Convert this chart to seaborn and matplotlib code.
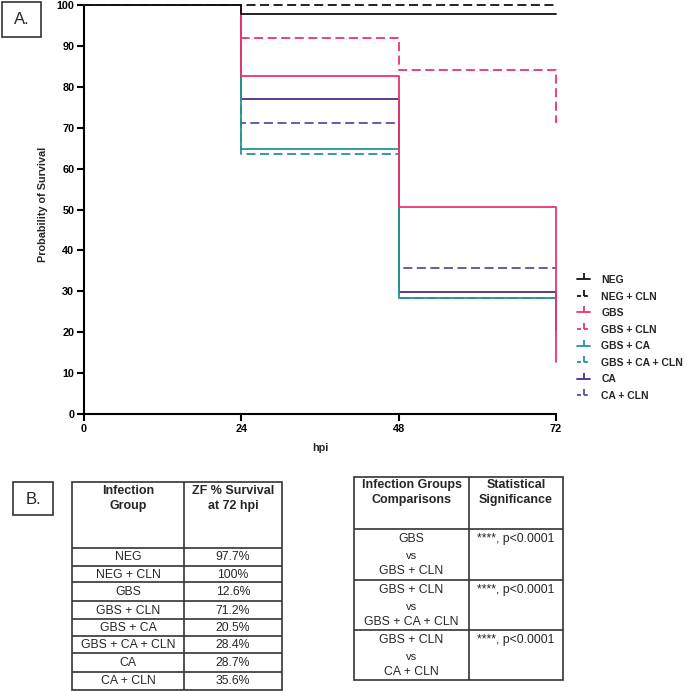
import matplotlib
matplotlib.use("Agg")
import matplotlib.pyplot as plt
import seaborn as sns
import pandas as pd
from matplotlib.lines import Line2D
from matplotlib.path import Path
from matplotlib.patches import Rectangle

# ---------------- data ----------------
times = [0, 24, 48, 72]
surv_neg = [100, 97.7, 97.7, 97.7]
surv_neg_cln = [100, 100, 100, 100]
surv_gbs = [100, 82.7, 50.5, 12.6]
surv_gbs_cln = [100, 92.0, 84.0, 71.2]
surv_gbs_ca = [100, 64.7, 28.4, 20.5]
surv_gbs_ca_cln = [100, 63.6, 28.4, 28.4]
surv_ca = [100, 77.0, 29.9, 28.7]
surv_ca_cln = [100, 71.2, 35.6, 35.6]

group_names = ["NEG", "NEG + CLN", "GBS", "GBS + CLN", "GBS + CA",
               "GBS + CA + CLN", "CA", "CA + CLN"]
group_values = [surv_neg, surv_neg_cln, surv_gbs, surv_gbs_cln, surv_gbs_ca,
                surv_gbs_ca_cln, surv_ca, surv_ca_cln]
colors = ["#111111", "#111111", "#F0306E", "#F0306E", "#23968C", "#23968C",
          "#4A2F85", "#5E4E9E"]
dashed = [False, True, False, True, False, True, False, True]

xticks = [0, 24, 48, 72]
yticks = list(range(0, 101, 10))

table1_header = ["Infection\nGroup", "ZF % Survival\nat 72 hpi"]
table1_groups = group_names
table1_survival = ["97.7%", "100%", "12.6%", "71.2%", "20.5%", "28.4%",
                   "28.7%", "35.6%"]

table2_header = ["Infection Groups\nComparisons", "Statistical\nSignificance"]
table2_a = ["GBS", "GBS + CLN", "GBS + CLN"]
table2_b = ["GBS + CLN", "GBS + CA + CLN", "CA + CLN"]
table2_sig = ["****, p<0.0001", "****, p<0.0001", "****, p<0.0001"]

# ---------------- style ----------------
sns.set_style("ticks")
plt.rcParams["font.family"] = ["Liberation Sans", "DejaVu Sans"]

W, H = 687, 691
fig = plt.figure(figsize=(W / 100, H / 100), dpi=100)

# survival plot axes in pixel geometry
L, R, T, B = 84, 556, 5, 414
ax = fig.add_axes([L / W, 1 - B / H, (R - L) / W, (B - T) / H])

df = pd.DataFrame({
    "hpi": [t for _ in group_names for t in times],
    "surv": [v for vals in group_values for v in vals],
    "group": [g for g in group_names for _ in times],
})

draw_order = [7, 6, 5, 4, 3, 2, 1, 0]
for i in draw_order:
    sub = df[df["group"] == group_names[i]]
    ls = (0, (5, 2.5)) if dashed[i] else "-"
    sns.lineplot(data=sub, x="hpi", y="surv", ax=ax, color=colors[i],
                 linestyle=ls, drawstyle="steps-post", linewidth=1.3,
                 errorbar=None, legend=False, clip_on=False,
                 zorder=3 + (8 - i) * 0.01)

ax.set_xlim(0, 72)
ax.set_ylim(0, 100)
ax.set_xticks(xticks)
ax.set_yticks(yticks)
for s in ["top", "right"]:
    ax.spines[s].set_visible(False)
for s in ["left", "bottom"]:
    ax.spines[s].set_linewidth(1.5)
    ax.spines[s].set_color("black")
ax.tick_params(width=1.5, length=5, labelsize=7.8, pad=2, colors="black")
for lab in ax.get_xticklabels() + ax.get_yticklabels():
    lab.set_fontweight("bold")
ax.set_xlabel("hpi", fontsize=7.8, fontweight="bold")
ax.set_ylabel("Probability of Survival", fontsize=7.8, fontweight="bold")
ax.xaxis.set_label_coords(0.5, -(443 - B) / (B - T))
ax.yaxis.set_label_coords(-(L - 48) / (R - L), 0.5 + (209.5 - 204) / (B - T))

# legend with censor-tick handles
tick_marker = Path([(0, 0), (0, 1)])
handles = []
for i, g in enumerate(group_names):
    ls = (0, (2.2, 1.6)) if dashed[i] else "-"
    handles.append(Line2D([0], [0], color=colors[i], linestyle=ls, linewidth=1.3,
                          marker=tick_marker, markersize=9, markeredgewidth=1.3,
                          label=g))
leg = fig.legend(handles=handles, loc="upper left",
                 bbox_to_anchor=(577 / W, 1 - 275 / H), frameon=False,
                 prop={"size": 7.5, "weight": "bold"}, handlelength=1.25,
                 handletextpad=1.1, labelspacing=0.63, borderaxespad=0,
                 borderpad=0, numpoints=1)

# ---------------- overlay for boxes & tables ----------------
ov = fig.add_axes([0, 0, 1, 1], zorder=-1)
ov.set_xlim(0, W)
ov.set_ylim(H, 0)
ov.axis("off")
ov.patch.set_alpha(0)

def box(x0, y0, x1, y1, lw=1.2, color="#333333"):
    ov.add_patch(Rectangle((x0, y0), x1 - x0, y1 - y0, fill=False, lw=lw,
                           edgecolor=color))

def hline(y, x0, x1, lw=1.2, color="#333333"):
    ov.plot([x0, x1], [y, y], color=color, lw=lw, solid_capstyle="butt")

def vline(x, y0, y1, lw=1.2, color="#333333"):
    ov.plot([x, x], [y0, y1], color=color, lw=lw, solid_capstyle="butt")

# panel labels
box(2, 2, 41, 37)
ov.text(21.5, 19.5, "A.", ha="center", va="center", fontsize=12)
box(13, 482, 53, 515)
ov.text(33, 499, "B.", ha="center", va="center", fontsize=12)

# table 1
t1x = [72, 184, 282]
t1y = [482, 548, 566, 582, 601, 619, 636, 653, 672, 690]
box(t1x[0], t1y[0], t1x[2], t1y[-1])
vline(t1x[1], t1y[0], t1y[-1])
for y in t1y[1:-1]:
    hline(y, t1x[0], t1x[2])
for c in range(2):
    cx = (t1x[c] + t1x[c + 1]) / 2
    ov.text(cx, 485, table1_header[c], ha="center", va="top", fontsize=9,
            fontweight="bold", linespacing=1.3)
for r in range(len(table1_groups)):
    cy = (t1y[r + 1] + t1y[r + 2]) / 2
    ov.text((t1x[0] + t1x[1]) / 2, cy + 0.5, table1_groups[r], ha="center",
            va="center", fontsize=8.8)
    ov.text((t1x[1] + t1x[2]) / 2, cy + 0.5, table1_survival[r], ha="center",
            va="center", fontsize=8.8)

# table 2
t2x = [354, 469, 563]
t2y = [477, 529, 580, 630, 680]
box(t2x[0], t2y[0], t2x[2], t2y[-1])
vline(t2x[1], t2y[0], t2y[-1])
for y in t2y[1:-1]:
    hline(y, t2x[0], t2x[2])
for c in range(2):
    cx = (t2x[c] + t2x[c + 1]) / 2
    ov.text(cx, 479, table2_header[c], ha="center", va="top", fontsize=9,
            fontweight="bold", linespacing=1.3)
for r in range(len(table2_a)):
    top = t2y[r + 1]
    cx1 = (t2x[0] + t2x[1]) / 2
    ov.text(cx1, top + 10, table2_a[r], ha="center", va="center", fontsize=8.8)
    ov.text(cx1, top + 27, "vs", ha="center", va="center", fontsize=8.0)
    ov.text(cx1, top + 42, table2_b[r], ha="center", va="center", fontsize=8.8)
    ov.text((t2x[1] + t2x[2]) / 2, top + 10, table2_sig[r], ha="center",
            va="center", fontsize=8.8)

fig.savefig("out.png", dpi=100)
